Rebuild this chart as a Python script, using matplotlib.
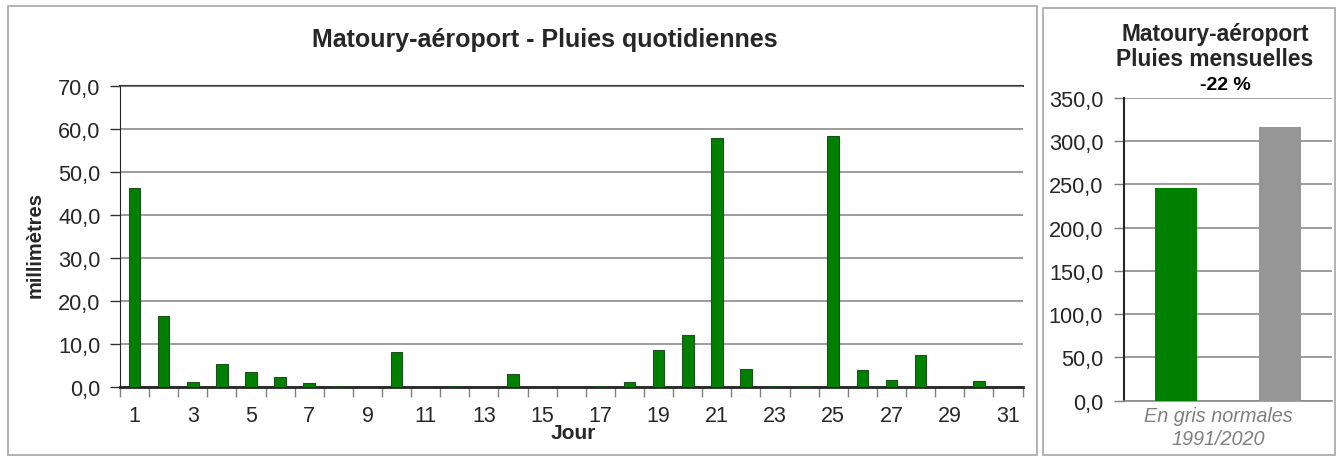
import numpy as np
import matplotlib
matplotlib.use("Agg")
from matplotlib import pyplot as plt
from matplotlib.patches import Rectangle
from matplotlib.ticker import FuncFormatter, FixedLocator

plt.rcParams['font.family'] = ['Liberation Sans', 'DejaVu Sans']

# daily rain, mm
jours = list(range(1, 32))
pluie = [46.4, 16.5, 1.2, 5.4, 3.5, 2.3, 1.0, 0.3, 0.0, 8.2, 0.0, 0.2, 0.0, 3.1, 0.0, 0.0,
         0.3, 1.2, 8.7, 12.1, 57.9, 4.3, 0.3, 0.3, 58.4, 4.0, 1.7, 7.5, 0.0, 1.5, 0.0]

# monthly total vs normal 1991/2020
mensuel = [245.9, 316.4]
mensuel_couleurs = ['#008000', '#969696']
ecart = '-22 %'

W, H = 1343, 464
fig = plt.figure(figsize=(W / 100, H / 100), dpi=100, facecolor='white')

def fx(px):
    return px / W

def fy(py):
    return 1 - py / H

comma = FuncFormatter(lambda v, _: f'{v:.1f}'.replace('.', ','))
txt = '#262626'
grid_c = '#8c8c8c'

# ——— panel frames ———
for x0, y0, x1, y1 in [(8, 7, 1037, 456), (1043, 9, 1335, 456)]:
    fig.add_artist(Rectangle((fx(x0), fy(y1)), fx(x1 - x0), (y1 - y0) / H,
                             transform=fig.transFigure, fill=False,
                             edgecolor='#a6a6a6', lw=1.2))

# ——— daily chart ———
ax = fig.add_axes([fx(120), fy(388.3), fx(1022.5 - 120), (388.3 - 87.3) / H])
ax.bar(jours, pluie, width=0.4, color='#008000', edgecolor='#1f4f1f', lw=0.8, zorder=3)
ax.set_xlim(0.5, 31.5)
ax.set_ylim(0, 70)
ax.set_yticks(np.arange(0, 71, 10))
ax.yaxis.set_major_formatter(comma)
ax.yaxis.grid(True, color=grid_c, lw=1.2, zorder=0)
ax.xaxis.set_major_locator(FixedLocator(jours[::2]))
ax.xaxis.set_minor_locator(FixedLocator(np.arange(0.5, 32, 1)))
ax.tick_params(axis='x', which='major', length=0, pad=13, labelsize=15.5, labelcolor=txt)
ax.tick_params(axis='x', which='minor', length=7, width=1, color='#7f7f7f')
ax.tick_params(axis='y', length=7, width=1, color='#333333', pad=7, labelsize=15.7, labelcolor=txt)
for s in ['top', 'right']:
    ax.spines[s].set_visible(False)
ax.spines['left'].set_color('#262626')
ax.spines['bottom'].set_color('#262626')
ax.spines['bottom'].set_linewidth(2)
ax.axhline(70, color='#333333', lw=1.5, zorder=1, clip_on=False)

fig.text(fx(545), fy(40), 'Matoury-aéroport - Pluies quotidiennes', ha='center', va='center',
         fontsize=18, fontweight='bold', color=txt)
fig.text(fx(35), fy(245), 'millimètres', rotation=90, ha='center', va='center',
         fontsize=14.5, fontweight='bold', color=txt)
fig.text(fx(573), fy(434), 'Jour', ha='center', va='center',
         fontsize=15, fontweight='bold', color=txt)

# ——— monthly chart ———
ax2 = fig.add_axes([fx(1124), fy(401.7), fx(1332 - 1124), (401.7 - 99) / H])
ax2.bar([0, 1], mensuel, width=0.41, color=mensuel_couleurs, zorder=3)
ax2.set_xlim(-0.5, 1.5)
ax2.set_ylim(0, 350)
ax2.set_yticks(np.arange(0, 351, 50))
ax2.yaxis.set_major_formatter(comma)
ax2.yaxis.grid(True, color=grid_c, lw=1.2, zorder=0)
ax2.set_xticks([])
ax2.tick_params(axis='y', length=7, width=1, color='#7f7f7f', pad=8, labelsize=15.7, labelcolor=txt)
for s in ['top', 'right']:
    ax2.spines[s].set_visible(False)
ax2.spines['left'].set_color('#262626')
ax2.spines['left'].set_linewidth(1.5)
ax2.spines['bottom'].set_color(grid_c)
ax2.spines['bottom'].set_linewidth(1.2)

fig.text(fx(1215), fy(34), 'Matoury-aéroport', ha='center', va='center',
         fontsize=16.4, fontweight='bold', color=txt)
fig.text(fx(1215), fy(60), 'Pluies mensuelles', ha='center', va='center',
         fontsize=16.4, fontweight='bold', color=txt)
fig.text(fx(1225), fy(85), ecart, ha='center', va='center',
         fontsize=14, fontweight='bold', color='black')
fig.text(fx(1218), fy(417), 'En gris normales', ha='center', va='center',
         fontsize=14.3, fontstyle='italic', color='#7f7f7f')
fig.text(fx(1218), fy(440), '1991/2020', ha='center', va='center',
         fontsize=14.3, fontstyle='italic', color='#7f7f7f')

fig.savefig('out.png', dpi=100, facecolor='white')
